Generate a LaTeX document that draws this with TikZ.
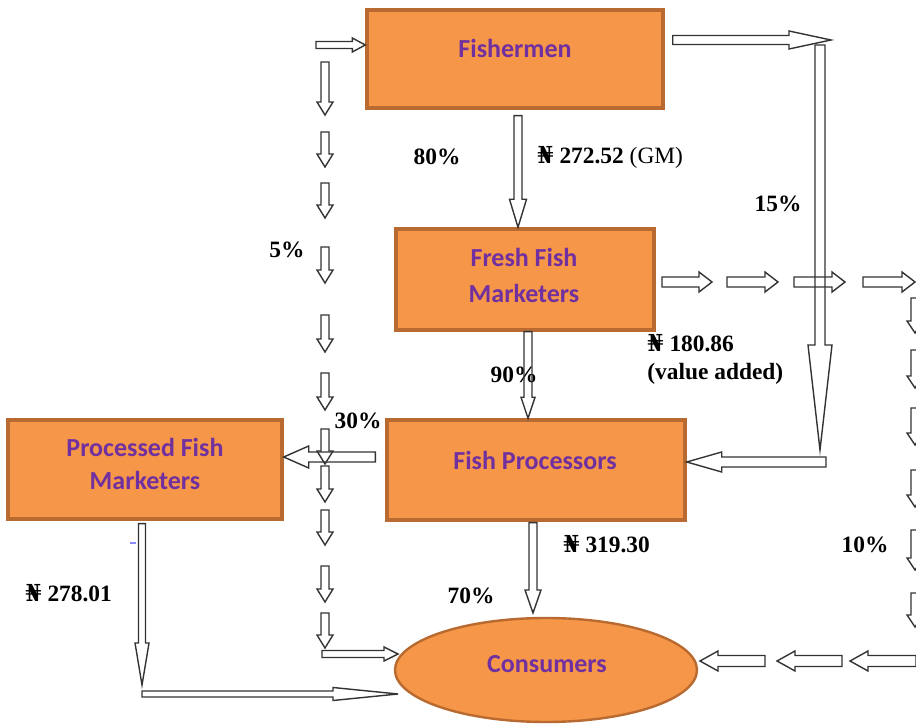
\documentclass[tikz,border=0pt]{standalone}
\usepackage{fontspec}
\setmainfont{Liberation Serif}
\newfontfamily\boxfont{Carlito}
\newfontfamily\nairafont{DejaVu Serif}
\usetikzlibrary{calc,shapes.geometric}

\definecolor{boxfill}{RGB}{246,150,72}
\definecolor{boxedge}{RGB}{184,106,48}
\definecolor{boxtext}{RGB}{112,48,160}

\newcommand{\naira}{{\nairafont\char"20A6}}

% hollow block arrow: from, to, half shaft, half head, head length (in px)
\newcommand{\barrow}[5]{%
  \pgfmathsetmacro{\arrS}{#3*0.5}
  \pgfmathsetmacro{\arrW}{#4*0.5}
  \pgfmathsetmacro{\arrL}{#5*0.5}
  \coordinate (ba) at (#1);
  \coordinate (bb) at (#2);
  \coordinate (bh) at ($(bb)!\arrL pt!(ba)$);
  \draw[blockarrow] ($(ba)!\arrS pt!90:(bb)$) -- ($(bh)!\arrS pt!-90:(ba)$)
    -- ($(bh)!\arrW pt!-90:(ba)$) -- (bb) -- ($(bh)!\arrW pt!90:(ba)$)
    -- ($(bh)!\arrS pt!90:(ba)$) -- ($(ba)!\arrS pt!-90:(bb)$) -- cycle;
}

\tikzset{
  box/.style={draw=boxedge, fill=boxfill, line width=1.7pt, inner sep=0pt},
  boxlabel/.style={font=\boxfont\bfseries\fontsize{13}{17.5}\selectfont, text=boxtext, align=center},
  val/.style={font=\bfseries\fontsize{11.7}{14}\selectfont, inner sep=0pt},
  blockarrow/.style={draw=black!80, line width=0.7pt, line join=miter}
}

\begin{document}
\begin{tikzpicture}[x=0.5pt,y=-0.5pt]
    \useasboundingbox (0,0) rectangle (916,726);
    % boxes
    \node[box, minimum width=148pt, minimum height=49pt] (fishermen) at (515,59) {};
    \node[box, minimum width=129pt, minimum height=50.5pt] (fresh) at (525,279.5) {};
    \node[box, minimum width=149pt, minimum height=50pt] (procs) at (536,470) {};
    \node[box, minimum width=137pt, minimum height=49.5pt] (processed) at (145,469.5) {};
    \node[box, ellipse, line width=1.2pt, minimum width=151pt, minimum height=52pt] (consumers) at (546,670) {};
    \node[boxlabel] (fishermenT) at (515,48) {Fishermen};
    \node[boxlabel, font=\boxfont\bfseries\fontsize{13}{18}\selectfont] (freshT) at (524,275) {Fresh Fish\\Marketers};
    \node[boxlabel] (procsT) at (535,460) {Fish Processors};
    \node[boxlabel, font=\boxfont\bfseries\fontsize{13}{16.5}\selectfont] (processedT) at (145,463.5) {Processed Fish\\Marketers};
    \node[boxlabel] (consumersT) at (547,664) {Consumers};
    % shares and values
    \node[val] (p80) at (437,157) {80\%};
    \node[val, anchor=west] (gm) at (537,157) {\naira{} 272.52 {\mdseries (GM)}};
    \node[val] (p15) at (778,204) {15\%};
    \node[val] (p5) at (287,250) {5\%};
    \node[val, anchor=west, align=left] (va) at (647,359) {\naira{} 180.86\\(value added)};
    \node[val] (p90) at (514,375) {90\%};
    \node[val] (p30) at (358,421) {30\%};
    \node[val, anchor=west] (v319) at (563,544) {\naira{} 319.30};
    \node[val] (p10) at (865,545) {10\%};
    \node[val] (p70) at (471,596) {70\%};
    \node[val, anchor=west] (v278) at (25,593) {\naira{} 278.01};
    \draw[blue!45, line width=0.6pt] (130,543) -- (136,543);
    % main flows
    \barrow{316,45}{$(fishermen.west)+(0,-14)$}{3.5}{7}{13}
    \barrow{$(fishermen.east)+(8,-19)$}{831,40}{4.5}{9}{42}
    \barrow{$(fishermen.south)+(3,6)$}{$(fresh.north)+(-7,0)$}{4}{8.5}{28}
    \barrow{$(fresh.south)+(3,0)$}{$(procs.north)+(-8,0)$}{4}{7}{21}
    \barrow{820,45}{820,450}{5}{12}{105}
    \barrow{826,462}{$(procs.east)+(0,-8)$}{5}{10}{35}
    \barrow{$(procs.west)+(-10,-13)$}{$(processed.east)+(0,-12.5)$}{5}{11}{25}
    \barrow{$(procs.south)+(-3,1)$}{533,613}{4}{8}{23}
    \barrow{$(processed.south)+(-3,3)$}{142,685}{3.5}{7}{42}
    \barrow{142,694}{398,694}{3}{6.5}{65}
    % 5% chain
    \foreach \ya/\yb in {62/115,132/167,183/218,247/283,315/352,373/410,429/464,466/502,510/545,566/602,613/648}
      \barrow{325,\ya}{325,\yb}{4}{8}{13};
    \barrow{322,654}{398,654}{3.5}{7}{14}
    % 10% chain
    \foreach \xa/\xb in {662/712,727/778,794/845,863/915}
      \barrow{\xa,282}{\xb,282}{5}{10}{13};
    \foreach \ya/\yb in {298/333,350/388,408/445,470/507,530/570,593/627}
      \barrow{915,\ya}{915,\yb}{4}{8}{12};
    \foreach \xa/\xb in {916/850,842/777,765/700}
      \barrow{\xa,661}{\xb,661}{5.5}{10}{18};
\end{tikzpicture}
\end{document}
